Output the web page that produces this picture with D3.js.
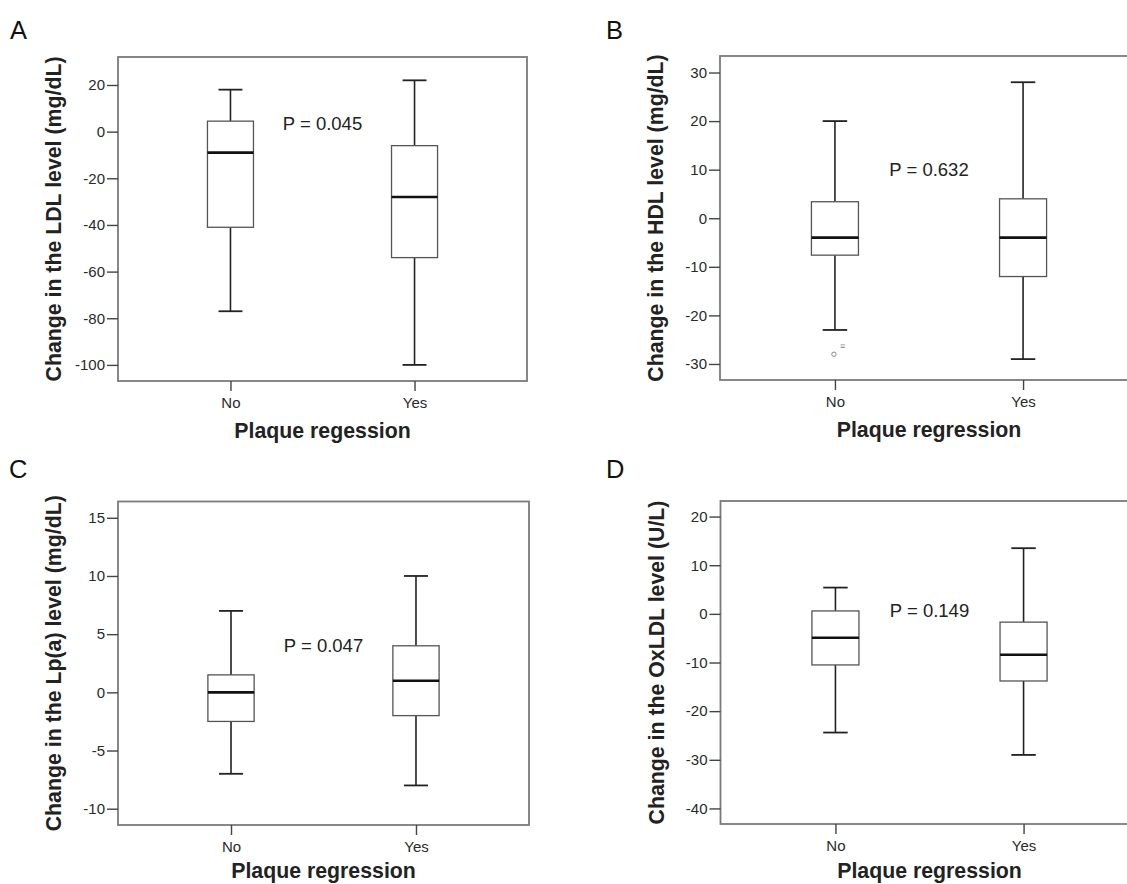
<!DOCTYPE html>
<html>
<head>
<meta charset="utf-8">
<script src="https://cdn.jsdelivr.net/npm/d3@7"></script>
<style>
  html, body { margin: 0; padding: 0; background: #fff; }
  svg { display: block; font-family: "Liberation Sans", Arial, Helvetica, sans-serif; }
</style>
</head>
<body>
<svg id="chart" width="1127" height="884"></svg>
<script>
// ---------------- DATA ----------------
const categories = ["No", "Yes"];
const panelLetters = ["A", "B", "C", "D"];
const yTitles = [
  "Change in the LDL level (mg/dL)",
  "Change in the HDL level (mg/dL)",
  "Change in the Lp(a) level (mg/dL)",
  "Change in the OxLDL level (U/L)"
];
const xTitles = ["Plaque regession", "Plaque regression", "Plaque regression", "Plaque regression"];
const pTexts = ["P = 0.045", "P = 0.632", "P = 0.047", "P = 0.149"];
// value (in axis units) at which each P label is centred vertically
const pTextValues = [3.7, 10, 4, 0.8];

// five-number summaries per category: [lower whisker, Q1, median, Q3, upper whisker]
const ldlStats   = [[-77, -41, -9, 4.5, 18], [-100, -54, -28, -6, 22]];
const hdlStats   = [[-23, -7.6, -4, 3.4, 20], [-29, -12, -4, 4, 28]];
const lpaStats   = [[-7, -2.5, 0, 1.5, 7], [-8, -2, 1, 4, 10]];
const oxldlStats = [[-24.4, -10.5, -4.9, 0.6, 5.4], [-29, -13.8, -8.4, -1.7, 13.5]];

// outliers (panel B, "No" group)
const hdlOutliers = [{ cat: "No", value: -28, label: "≡", labelValue: -26.3 }];

// tick values
const ldlTicks   = [20, 0, -20, -40, -60, -80, -100];
const hdlTicks   = [30, 20, 10, 0, -10, -20, -30];
const lpaTicks   = [15, 10, 5, 0, -5, -10];
const oxldlTicks = [20, 10, 0, -10, -20, -30, -40];

// axis domains [min, max]
const ldlDomain   = [-106.9, 32];
const hdlDomain   = [-33.3, 33.4];
const lpaDomain   = [-11.4, 16.4];
const oxldlDomain = [-43.2, 23.2];

// ---------------- LAYOUT ----------------
const panels = [
  { stats: ldlStats,   ticks: ldlTicks,   domain: ldlDomain,   outliers: [],
    frame: { x: 118, y: 57, w: 409, h: 324 }, letter: { x: 10, y: 38.5 }, titleGap: 57 },
  { stats: hdlStats,   ticks: hdlTicks,   domain: hdlDomain,   outliers: hdlOutliers,
    frame: { x: 720, y: 56, w: 418, h: 324 }, letter: { x: 606, y: 38.5 }, titleGap: 57 },
  { stats: lpaStats,   ticks: lpaTicks,   domain: lpaDomain,   outliers: [],
    frame: { x: 118, y: 501.5, w: 411, h: 323.5 }, letter: { x: 9, y: 478 }, titleGap: 53 },
  { stats: oxldlStats, ticks: oxldlTicks, domain: oxldlDomain, outliers: [],
    frame: { x: 720.5, y: 501, w: 418, h: 323 }, letter: { x: 606, y: 477.5 }, titleGap: 53.5 }
];

const svg = d3.select("#chart");
svg.append("rect").attr("width", 1127).attr("height", 884).attr("fill", "#fff");

panels.forEach((p, i) => {
  const f = p.frame;
  const g = svg.append("g");

  const x = d3.scalePoint().domain(categories).range([f.x, f.x + f.w]).padding(0.611);
  const y = d3.scaleLinear().domain(p.domain).range([f.y + f.h, f.y]);
  const step = x.step();
  const boxW = step * 0.25;
  const capW = step * 0.13;

  // panel letter
  g.append("text")
    .attr("x", p.letter.x).attr("y", p.letter.y)
    .attr("font-size", 25.5).attr("fill", "#111")
    .text(panelLetters[i]);

  // frame
  g.append("rect")
    .attr("x", f.x).attr("y", f.y).attr("width", f.w).attr("height", f.h)
    .attr("fill", "none").attr("stroke", "#7a7a7a").attr("stroke-width", 1.8);

  // y axis
  const yAxis = d3.axisLeft(y).tickValues(p.ticks).tickSize(11).tickPadding(2)
    .tickFormat(d => String(d));
  const ya = g.append("g").attr("transform", `translate(${f.x},0)`).call(yAxis);
  ya.select(".domain").remove();
  ya.selectAll(".tick line").attr("stroke", "#444").attr("stroke-width", 1.4);
  ya.selectAll(".tick text").attr("font-size", 15).attr("fill", "#2a2a2a")
    .attr("font-family", '"Liberation Sans", Arial, sans-serif');

  // x axis
  const xAxis = d3.axisBottom(x).tickSize(10).tickPadding(6);
  const xa = g.append("g").attr("transform", `translate(0,${f.y + f.h})`).call(xAxis);
  xa.select(".domain").remove();
  xa.selectAll(".tick line").attr("stroke", "#444").attr("stroke-width", 1.4);
  xa.selectAll(".tick text").attr("font-size", 15).attr("fill", "#2a2a2a")
    .attr("font-family", '"Liberation Sans", Arial, sans-serif');

  // y title
  const cy = f.y + f.h / 2;
  const tx = f.x - 64;
  g.append("text")
    .attr("transform", `translate(${tx},${cy}) rotate(-90)`)
    .attr("text-anchor", "middle").attr("dy", "0.35em")
    .attr("font-size", 21.3).attr("font-weight", "bold").attr("fill", "#222")
    .text(yTitles[i]);

  // x title
  const midX = (x(categories[0]) + x(categories[1])) / 2;
  g.append("text")
    .attr("x", midX).attr("y", f.y + f.h + p.titleGap)
    .attr("text-anchor", "middle")
    .attr("font-size", 21.3).attr("font-weight", "bold").attr("fill", "#222")
    .text(xTitles[i]);

  // P value text
  g.append("text")
    .attr("x", midX).attr("y", y(pTextValues[i]))
    .attr("dy", "0.36em").attr("text-anchor", "middle")
    .attr("font-size", 18.5).attr("fill", "#222")
    .text(pTexts[i]);

  // boxes
  categories.forEach((c, k) => {
    const s = p.stats[k];
    const cx = x(c);
    const bg = g.append("g");
    // whiskers
    bg.append("line").attr("x1", cx).attr("x2", cx).attr("y1", y(s[4])).attr("y2", y(s[3]))
      .attr("stroke", "#222").attr("stroke-width", 1.6);
    bg.append("line").attr("x1", cx).attr("x2", cx).attr("y1", y(s[1])).attr("y2", y(s[0]))
      .attr("stroke", "#222").attr("stroke-width", 1.6);
    // caps
    [s[0], s[4]].forEach(v => {
      bg.append("line").attr("x1", cx - capW / 2).attr("x2", cx + capW / 2)
        .attr("y1", y(v)).attr("y2", y(v))
        .attr("stroke", "#222").attr("stroke-width", 1.8);
    });
    // box
    bg.append("rect")
      .attr("x", cx - boxW / 2).attr("y", y(s[3]))
      .attr("width", boxW).attr("height", y(s[1]) - y(s[3]))
      .attr("fill", "#fff").attr("stroke", "#555").attr("stroke-width", 1.3);
    // median
    bg.append("line").attr("x1", cx - boxW / 2).attr("x2", cx + boxW / 2)
      .attr("y1", y(s[2])).attr("y2", y(s[2]))
      .attr("stroke", "#111").attr("stroke-width", 2.6);
  });

  // outliers
  p.outliers.forEach(o => {
    g.append("circle").attr("cx", x(o.cat) - 1).attr("cy", y(o.value)).attr("r", 2.2)
      .attr("fill", "none").attr("stroke", "#888").attr("stroke-width", 1);
    g.append("text").attr("x", x(o.cat) + 5).attr("y", y(o.labelValue))
      .attr("dy", "0.35em").attr("font-size", 9).attr("fill", "#888")
      .text(o.label);
  });
});
</script>
</body>
</html>
